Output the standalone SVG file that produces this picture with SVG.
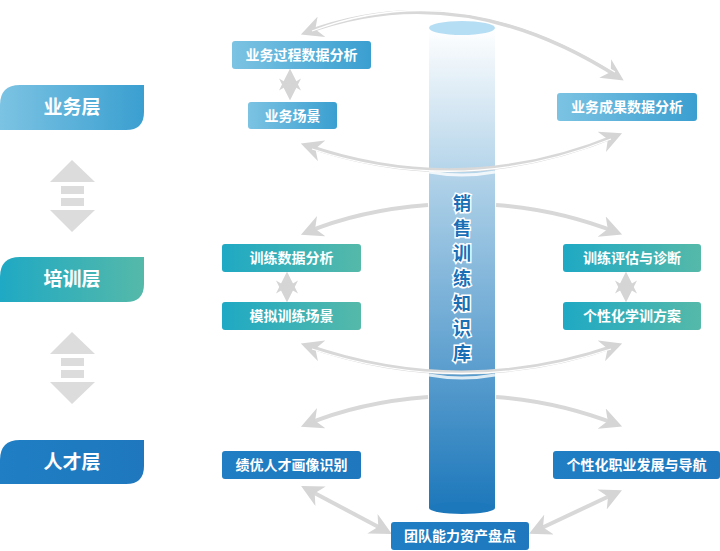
<svg xmlns="http://www.w3.org/2000/svg" width="720" height="551" viewBox="0 0 720 551">
<style>
.t{font-family:"Noto Sans CJK SC","Noto Sans",sans-serif;fill:#fff;font-weight:bold;text-anchor:middle}
.n{font-size:14px}
.L{font-size:19px}
.a{fill:none;stroke:#d8d8d8;stroke-width:4}
.ai{fill:none;stroke:#fff;stroke-width:1.3}
</style>
<defs>
<linearGradient id="gB" x1="0" x2="1"><stop offset="0" stop-color="#7cc3e3"/><stop offset="1" stop-color="#3a9fd0"/></linearGradient>
<linearGradient id="gT" x1="0" x2="1"><stop offset="0" stop-color="#1fa9c4"/><stop offset="1" stop-color="#55b9a9"/></linearGradient>
<linearGradient id="gD" x1="0" x2="1"><stop offset="0" stop-color="#1f7ec4"/><stop offset="1" stop-color="#1f78bd"/></linearGradient>
<linearGradient id="cyl" x1="0" y1="0" x2="0" y2="1"><stop offset="0" stop-color="#ffffff"/><stop offset="0.35" stop-color="#a8cde6"/><stop offset="1" stop-color="#1d78bb"/></linearGradient>
<marker id="m" viewBox="0 0 10 10" refX="8" refY="5" markerWidth="5.5" markerHeight="5.5" orient="auto-start-reverse" markerUnits="strokeWidth"><path d="M0,0 L10,5 L0,10 L3,5 Z" fill="#d5d5d5"/></marker>
</defs>
<rect width="720" height="551" fill="#fff"/>

<g id="layers">
<g id="L1"><path d="M20,85 H144 V112 Q144,130 126,130 H0 V105 Q0,85 20,85 Z" fill="url(#gB)"/><text class="t L" x="72" y="114">业务层</text></g>
<g id="L2"><path d="M20,257 H144 V284 Q144,302 126,302 H0 V277 Q0,257 20,257 Z" fill="url(#gT)"/><text class="t L" x="72" y="286">培训层</text></g>
<g id="L3"><path d="M20,440 H144 V466 Q144,484 126,484 H0 V460 Q0,440 20,440 Z" fill="url(#gD)"/><text class="t L" x="72" y="469">人才层</text></g>
<g id="ud1" fill="#dcdcdc"><path d="M72,160 L95,182 H50 Z M61,186 H84 V194 H61 Z M61,198 H84 V206 H61 Z M50,210 H95 L72,232 Z"/></g>
<g id="ud2" fill="#dcdcdc"><path d="M72,332 L95,354 H50 Z M61,358 H84 V366 H61 Z M61,370 H84 V378 H61 Z M50,382 H95 L72,404 Z"/></g>
</g>

<g id="cylinder">
<rect x="429" y="28" width="66" height="480" fill="url(#cyl)"/>
<ellipse cx="462" cy="508" rx="33" ry="6" fill="#1d78bb"/>
<ellipse cx="462" cy="28" rx="33" ry="7" fill="#b5def4"/>
<g font-family="Noto Sans CJK SC,sans-serif" font-size="18" font-weight="bold" fill="#1a6fb5" stroke="#fff" stroke-width="3" paint-order="stroke" text-anchor="middle">
<text x="462" y="210">销</text><text x="462" y="235">售</text><text x="462" y="260">训</text><text x="462" y="285">练</text><text x="462" y="310">知</text><text x="462" y="335">识</text><text x="462" y="360">库</text>
</g>
</g>

<g id="connectors">
<path class="a" d="M305,33 Q460,-25 620,78" marker-start="url(#m)" marker-end="url(#m)"/>
<path class="ai" d="M312,31 Q460,-25 615,72"/>
<path class="a" d="M305,145 Q462,200 618,135" marker-start="url(#m)" marker-end="url(#m)"/>
<path class="ai" d="M312,149 Q462,198 611,139"/>
<path class="a" d="M428,205 Q360,210 305,233" marker-end="url(#m)"/>
<path class="a" d="M496,205 Q560,210 618,233" marker-end="url(#m)"/>
<path class="a" d="M305,345 Q462,400 618,345" marker-start="url(#m)" marker-end="url(#m)"/>
<path class="ai" d="M312,349 Q462,398 611,349"/>
<path class="a" d="M428,397 Q360,402 305,425" marker-end="url(#m)"/>
<path class="a" d="M496,397 Q560,402 618,425" marker-end="url(#m)"/>
<path class="a" d="M305,488 L388,532" marker-start="url(#m)" marker-end="url(#m)"/>
<path class="a" d="M533,532 L618,492" marker-start="url(#m)" marker-end="url(#m)"/>
<path class="a" d="M290,73 V96" stroke-width="3" marker-start="url(#m)" marker-end="url(#m)"/>
<path class="a" d="M287,276 V298" stroke-width="3" marker-start="url(#m)" marker-end="url(#m)"/>
<path class="a" d="M626,276 V298" stroke-width="3" marker-start="url(#m)" marker-end="url(#m)"/>
<path d="M429,172 Q462,178 495,172" stroke="#fff" stroke-width="3" fill="none" opacity="0.8"/>
<path d="M429,375 Q462,381 495,375" stroke="#fff" stroke-width="3" fill="none" opacity="0.8"/>
</g>

<g id="n1"><rect x="232" y="41" width="139" height="28" rx="3" fill="url(#gB)"/><text class="t n" x="301.5" y="60">业务过程数据分析</text></g>
<g id="n2"><rect x="248" y="102" width="89" height="27" rx="3" fill="url(#gB)"/><text class="t n" x="292.5" y="121">业务场景</text></g>
<g id="n3"><rect x="557" y="93" width="140" height="28" rx="3" fill="url(#gB)"/><text class="t n" x="627" y="112">业务成果数据分析</text></g>
<g id="n4"><rect x="222" y="244" width="139" height="28" rx="3" fill="url(#gT)"/><text class="t n" x="291.5" y="263">训练数据分析</text></g>
<g id="n5"><rect x="222" y="302" width="139" height="28" rx="3" fill="url(#gT)"/><text class="t n" x="291.5" y="321">模拟训练场景</text></g>
<g id="n6"><rect x="563" y="244" width="138" height="28" rx="3" fill="url(#gT)"/><text class="t n" x="632" y="263">训练评估与诊断</text></g>
<g id="n7"><rect x="563" y="302" width="138" height="28" rx="3" fill="url(#gT)"/><text class="t n" x="632" y="321">个性化学训方案</text></g>
<g id="n8"><rect x="222" y="451" width="139" height="28" rx="3" fill="url(#gD)"/><text class="t n" x="291.5" y="470">绩优人才画像识别</text></g>
<g id="n9"><rect x="553" y="451" width="167" height="28" rx="3" fill="url(#gD)"/><text class="t n" x="636.5" y="470">个性化职业发展与导航</text></g>
<g id="n10"><rect x="391" y="522" width="138" height="28" rx="3" fill="url(#gD)"/><text class="t n" x="460" y="541">团队能力资产盘点</text></g>
</svg>
